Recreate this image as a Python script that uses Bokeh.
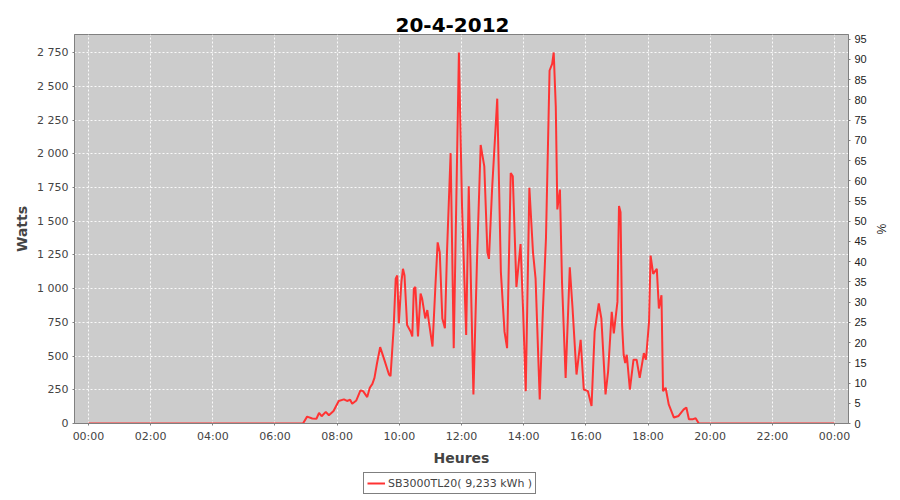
import pandas as pd
from bokeh.plotting import figure
from bokeh.layouts import column
from bokeh.models import (Range1d, LinearAxis, FixedTicker, DatetimeTickFormatter,
                          Legend, LegendItem, ColumnDataSource)
from bokeh.embed import file_html
from bokeh.resources import INLINE

title_text = "20-4-2012"
series_name = "SB3000TL20( 9,233 kWh )"
day_str = "2012-04-20"

times = ["00:00", "06:54", "07:02", "07:12", "07:20", "07:25", "07:30", "07:38", "07:44", "07:53",
         "08:03", "08:13", "08:19", "08:25", "08:29", "08:37", "08:45", "08:50", "08:58",
         "09:03", "09:08", "09:12", "09:17", "09:23", "09:30", "09:40", "09:43", "09:49", "09:53",
         "09:56", "09:59", "10:04", "10:07", "10:10", "10:15", "10:22", "10:25", "10:28", "10:31",
         "10:36", "10:41", "10:44", "10:50", "10:54", "10:57", "11:04", "11:10", "11:14", "11:18",
         "11:23", "11:28", "11:32", "11:39", "11:45", "11:55", "12:01", "12:09", "12:14", "12:23",
         "12:30", "12:37", "12:44", "12:50", "12:53", "12:59", "13:09", "13:16", "13:23", "13:28",
         "13:35", "13:39", "13:46", "13:54", "13:59", "14:04", "14:11", "14:18", "14:23", "14:31",
         "14:37", "14:43", "14:50", "14:55", "14:58", "15:02", "15:05", "15:10", "15:14", "15:21",
         "15:29", "15:34", "15:42", "15:50", "15:56", "16:04", "16:11", "16:17", "16:25", "16:30",
         "16:38", "16:43", "16:50", "16:54", "17:01", "17:04", "17:07", "17:10", "17:13", "17:16",
         "17:19", "17:25", "17:32", "17:38", "17:44", "17:52", "17:56", "18:02", "18:05", "18:10",
         "18:17", "18:21", "18:26", "18:29", "18:34", "18:40", "18:50", "18:59", "19:09", "19:14",
         "19:19", "19:27", "19:32", "19:38", "24:00"]

watts = [0, 0, 51, 37, 35, 78, 54, 86, 61, 93,
         167, 179, 167, 176, 147, 171, 245, 240, 196,
         265, 294, 338, 449, 566, 485, 363, 351, 706, 1074,
         1098, 743, 1049, 1147, 1098, 730, 681, 645, 1000, 1012,
         645, 963, 926, 779, 841, 755, 571, 1049, 1343, 1270,
         779, 706, 1270, 2005, 559, 2752, 1613, 657, 1760, 216,
         1221, 2066, 1907, 1270, 1221, 1735, 2409, 1123, 681, 559,
         1858, 1833, 1012, 1331, 828, 240, 1748, 1270, 1074, 179,
         828, 1368, 2618, 2667, 2752, 2348, 1588, 1735, 1049, 338,
         1159, 877, 363, 620, 252, 240, 130, 681, 890, 779,
         216, 387, 828, 669, 902, 1613, 1566, 730, 510, 449,
         510, 252, 473, 473, 338, 522, 473, 755, 1245, 1110,
         1147, 853, 951, 240, 265, 142, 44, 56, 105, 118,
         32, 32, 39, 0, 0]

watt_ticks = [0, 250, 500, 750, 1000, 1250, 1500, 1750, 2000, 2250, 2500, 2750]
watt_labels = ["0", "250", "500", "750", "1 000", "1 250", "1 500", "1 750",
               "2 000", "2 250", "2 500", "2 750"]
pct_ticks = [0, 5, 10, 15, 20, 25, 30, 35, 40, 45, 50, 55, 60, 65, 70, 75, 80, 85, 90, 95]
hour_ticks = [0, 2, 4, 6, 8, 10, 12, 14, 16, 18, 20, 22, 24]

watt_max = 2885
pct_per_watt = 1 / 30.0

line_color = "#ff3333"

day = pd.Timestamp(day_str)
t = [day + pd.Timedelta(hours=int(s[:2]), minutes=int(s[3:])) for s in times]
src = ColumnDataSource(dict(t=t, w=watts))

x0 = (day - pd.Timedelta(hours=0.45)).to_pydatetime()
x1 = (day + pd.Timedelta(hours=24.45)).to_pydatetime()

p = figure(width=892, height=468, x_axis_type="datetime", output_backend="svg",
           toolbar_location=None, x_range=Range1d(x0, x1), y_range=Range1d(0, watt_max),
           min_border_left=74, min_border_right=44, min_border_top=34, min_border_bottom=42,
           background_fill_color="#cccccc", border_fill_color="white",
           outline_line_color="#808080")

p.title.text = title_text
p.title.align = "left"
p.title.offset = 321
p.title.text_font = "DejaVu Sans"
p.title.text_font_size = "20px"
p.title.text_font_style = "bold"
p.title.text_color = "black"
p.title.standoff = 6

p.extra_y_ranges = {"pct": Range1d(0, watt_max * pct_per_watt)}
raxis = LinearAxis(y_range_name="pct", ticker=FixedTicker(ticks=pct_ticks, minor_ticks=[]),
                   axis_label="%")
p.add_layout(raxis, "right")

tick_ms = [(day + pd.Timedelta(hours=h)).value / 1e6 for h in hour_ticks]
p.xaxis.ticker = FixedTicker(ticks=tick_ms, minor_ticks=[])
fmt = "%H:%M"
p.xaxis.formatter = DatetimeTickFormatter(milliseconds=fmt, seconds=fmt, minsec=fmt, minutes=fmt,
                                          hourmin=fmt, hours=fmt, days=fmt, months=fmt, years=fmt)
p.yaxis[0].ticker = FixedTicker(ticks=watt_ticks, minor_ticks=[])
p.yaxis[0].major_label_overrides = dict(zip(watt_ticks, watt_labels))

p.xaxis.axis_label = "Heures"
p.yaxis[0].axis_label = "Watts"

for ax in [p.xaxis[0], p.yaxis[0], raxis]:
    ax.axis_line_color = "#808080"
    ax.major_tick_line_color = "#808080"
    ax.major_tick_out = 2
    ax.major_tick_in = 0
    ax.minor_tick_line_color = None
    ax.major_label_standoff = 4
    ax.axis_label_standoff = 4

for ax in [p.xaxis[0], p.yaxis[0]]:
    ax.major_label_text_font = "DejaVu Sans"
    ax.major_label_text_font_size = "11px"
    ax.major_label_text_color = "#444444"
    ax.axis_label_text_font = "DejaVu Sans"
    ax.axis_label_text_font_size = "14px"
    ax.axis_label_text_font_style = "bold"
    ax.axis_label_text_color = "#444444"

raxis.major_label_text_font = "Liberation Sans"
raxis.major_label_text_font_size = "11px"
raxis.major_label_text_color = "#222222"
raxis.axis_label_text_font = "Liberation Sans"
raxis.axis_label_text_font_size = "12px"
raxis.axis_label_text_font_style = "normal"
raxis.axis_label_text_color = "#222222"

for g in [p.xgrid[0], p.ygrid[0]]:
    g.grid_line_color = "white"
    g.grid_line_dash = "2 2"
    g.grid_line_width = 1
    g.grid_line_alpha = 0.9

p.line(x="t", y="w", source=src, line_color=line_color, line_width=2)

# legend strip below the chart (its frame is aligned with the main frame)
lg = figure(width=892, height=30, output_backend="svg", toolbar_location=None,
            x_axis_location=None, y_axis_location=None, x_range=Range1d(0, 1), y_range=Range1d(0, 1),
            min_border=0, outline_line_color=None, border_fill_color="white",
            background_fill_color="white")
lg.xgrid.visible = False
lg.ygrid.visible = False
key = lg.line(x=[float("nan"), float("nan")], y=[float("nan"), float("nan")],
              line_color=line_color, line_width=2)

legend = Legend(items=[LegendItem(label=series_name, renderers=[key])],
                location=(289, 4), orientation="horizontal")
legend.border_line_color = "black"
legend.border_line_width = 1
legend.background_fill_color = "white"
legend.background_fill_alpha = 1.0
legend.label_text_font = "DejaVu Sans"
legend.label_text_font_size = "11px"
legend.label_text_color = "#444444"
legend.glyph_width = 18
legend.glyph_height = 14
legend.label_standoff = 3
legend.padding = 3
legend.margin = 0
legend.label_height = 14
lg.add_layout(legend, "center")

open("out.html", "w").write(file_html(column(p, lg, spacing=0), INLINE))
